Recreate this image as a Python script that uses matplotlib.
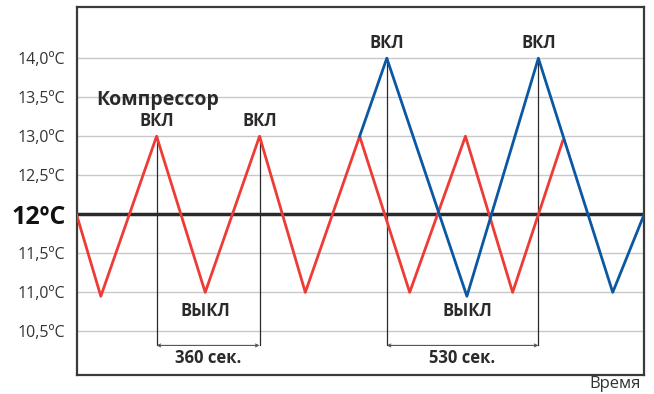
import matplotlib.pyplot as plt

plt.rcParams['font.family'] = ['Open Sans', 'DejaVu Sans']

# time in seconds, temperature in degC
red_t = [0, 85, 280, 450, 640, 800, 990, 1165, 1360, 1525, 1700]
red_v = [12.0, 10.95, 13.0, 11.0, 13.0, 11.0, 13.0, 11.0, 13.0, 11.0, 12.94]
blue_t = [990, 1085, 1365, 1615, 1875, 1985]
blue_v = [13.0, 14.0, 10.95, 14.0, 11.0, 12.0]

ytick_vals = [10.5, 11.0, 11.5, 12.0, 12.5, 13.0, 13.5, 14.0]
ytick_labels = ['10,5ºC', '11,0ºC', '11,5ºC', '12ºC', '12,5ºC', '13,0ºC', '13,5ºC', '14,0ºC']

on_t = [280, 640, 1085, 1615]
on_v = [13.0, 13.0, 14.0, 14.0]
off_t = [450, 1365]
spans = [(280, 640, '360 сек.'), (1085, 1615, '530 сек.')]

red = '#ee3b35'
blue = '#0a58a3'
dark = '#2a2a2a'

fig = plt.figure(figsize=(6.54, 3.94), dpi=100)
ax = fig.add_axes([0.117, 0.048, 0.868, 0.933])

for y in ytick_vals:
    if y != 12.0:
        ax.axhline(y, color='#c8c8c8', lw=1, zorder=0)
ax.axhline(12.0, color=dark, lw=2.5, zorder=1)

ax.plot(red_t, red_v, color=red, lw=2, zorder=3)
ax.plot(blue_t, blue_v, color=blue, lw=2, zorder=4)

# vertical markers and span arrows
for t, v in zip(on_t, on_v):
    ax.plot([t, t], [v, 10.32], color=dark, lw=0.9, zorder=2)
    ax.text(t, v + 0.19, 'ВКЛ', ha='center', va='center', fontsize=12,
            fontweight='bold', color=dark)
for t in off_t:
    ax.text(t, 10.76, 'ВЫКЛ', ha='center', va='center', fontsize=12,
            fontweight='bold', color=dark)
for a, b, lab in spans:
    ax.annotate('', xy=(a, 10.32), xytext=(b, 10.32),
                arrowprops=dict(arrowstyle='<->', color='#555555', lw=0.8,
                                mutation_scale=5, shrinkA=0, shrinkB=0))
    ax.text((a + b) / 2, 10.16, lab, ha='center', va='center', fontsize=12,
            fontweight='bold', color=dark)

ax.text(68, 13.47, 'Компрессор', ha='left', va='center', fontsize=14,
        fontweight='bold', color=dark)

ax.set_xlim(0, 1985)
ax.set_ylim(9.94, 14.65)
ax.set_xticks([])
ax.set_yticks(ytick_vals)
ax.set_yticklabels(ytick_labels)
ax.tick_params(axis='y', length=0, pad=8, labelsize=11.5, labelcolor='#333333')
for lbl in ax.get_yticklabels():
    if lbl.get_text() == '12ºC':
        lbl.set_fontsize(18)
        lbl.set_fontweight('bold')
        lbl.set_color('#111111')

for s in ax.spines.values():
    s.set_color('#3a3a3a')
    s.set_linewidth(1.6)

fig.text(0.94, 0.025, 'Время', ha='center', va='center', fontsize=12, color='#333333')

fig.savefig('out.png', dpi=100)
